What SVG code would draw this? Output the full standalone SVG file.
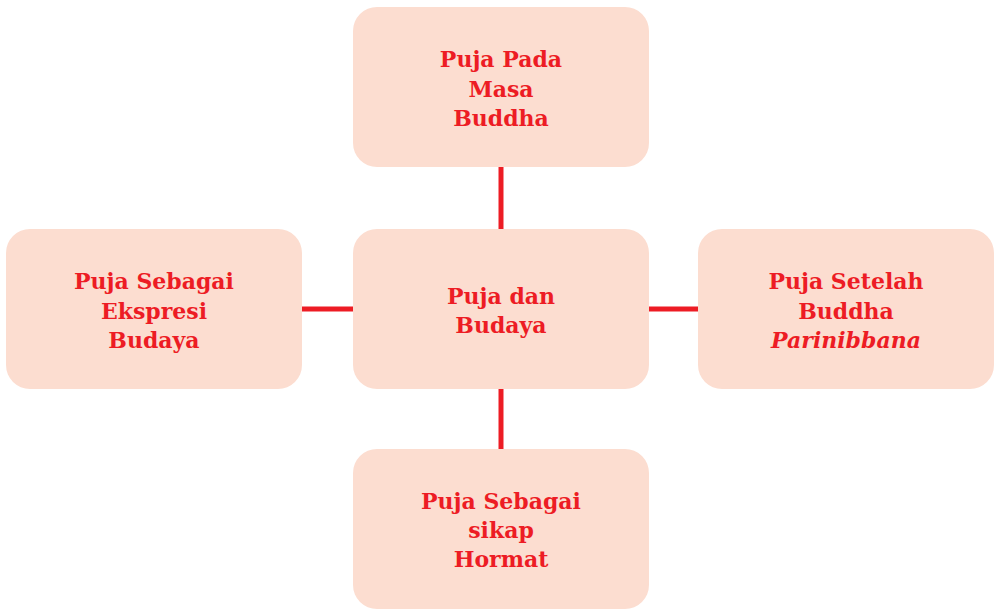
<svg xmlns="http://www.w3.org/2000/svg" width="995" height="610" viewBox="0 0 995 610">
<style>
.box{fill:#FCDDD0;}
.t{font-family:"DejaVu Serif","Liberation Serif",serif;font-weight:bold;font-size:22px;fill:#ED1C24;text-anchor:middle;}
.i{font-style:italic;}
.c{stroke:#ED1C24;stroke-width:5;fill:none;}
</style>
<rect width="995" height="610" fill="#ffffff"/>
<g id="connectors">
<line class="c" x1="501" y1="166" x2="501" y2="230"/>
<line class="c" x1="501" y1="388" x2="501" y2="450"/>
<line class="c" x1="302" y1="309" x2="353" y2="309"/>
<line class="c" x1="649" y1="309" x2="698" y2="309"/>
</g>
<g id="top">
<rect class="box" x="353" y="7" width="296" height="160" rx="24"/>
<text class="t" x="501" y="67">Puja Pada</text>
<text class="t" x="501" y="96.5">Masa</text>
<text class="t" x="501" y="126">Buddha</text>
</g>
<g id="center">
<rect class="box" x="353" y="229" width="296" height="160" rx="24"/>
<text class="t" x="501" y="304">Puja dan</text>
<text class="t" x="501" y="333">Budaya</text>
</g>
<g id="left">
<rect class="box" x="6" y="229" width="296" height="160" rx="24"/>
<text class="t" x="154" y="289">Puja Sebagai</text>
<text class="t" x="154" y="318.5">Ekspresi</text>
<text class="t" x="154" y="348">Budaya</text>
</g>
<g id="right">
<rect class="box" x="698" y="229" width="296" height="160" rx="24"/>
<text class="t" x="846" y="289">Puja Setelah</text>
<text class="t" x="846" y="318.5">Buddha</text>
<text class="t i" x="846" y="348">Parinibbana</text>
</g>
<g id="bottom">
<rect class="box" x="353" y="449" width="296" height="160" rx="24"/>
<text class="t" x="501" y="509">Puja Sebagai</text>
<text class="t" x="501" y="538">sikap</text>
<text class="t" x="501" y="567">Hormat</text>
</g>
</svg>
